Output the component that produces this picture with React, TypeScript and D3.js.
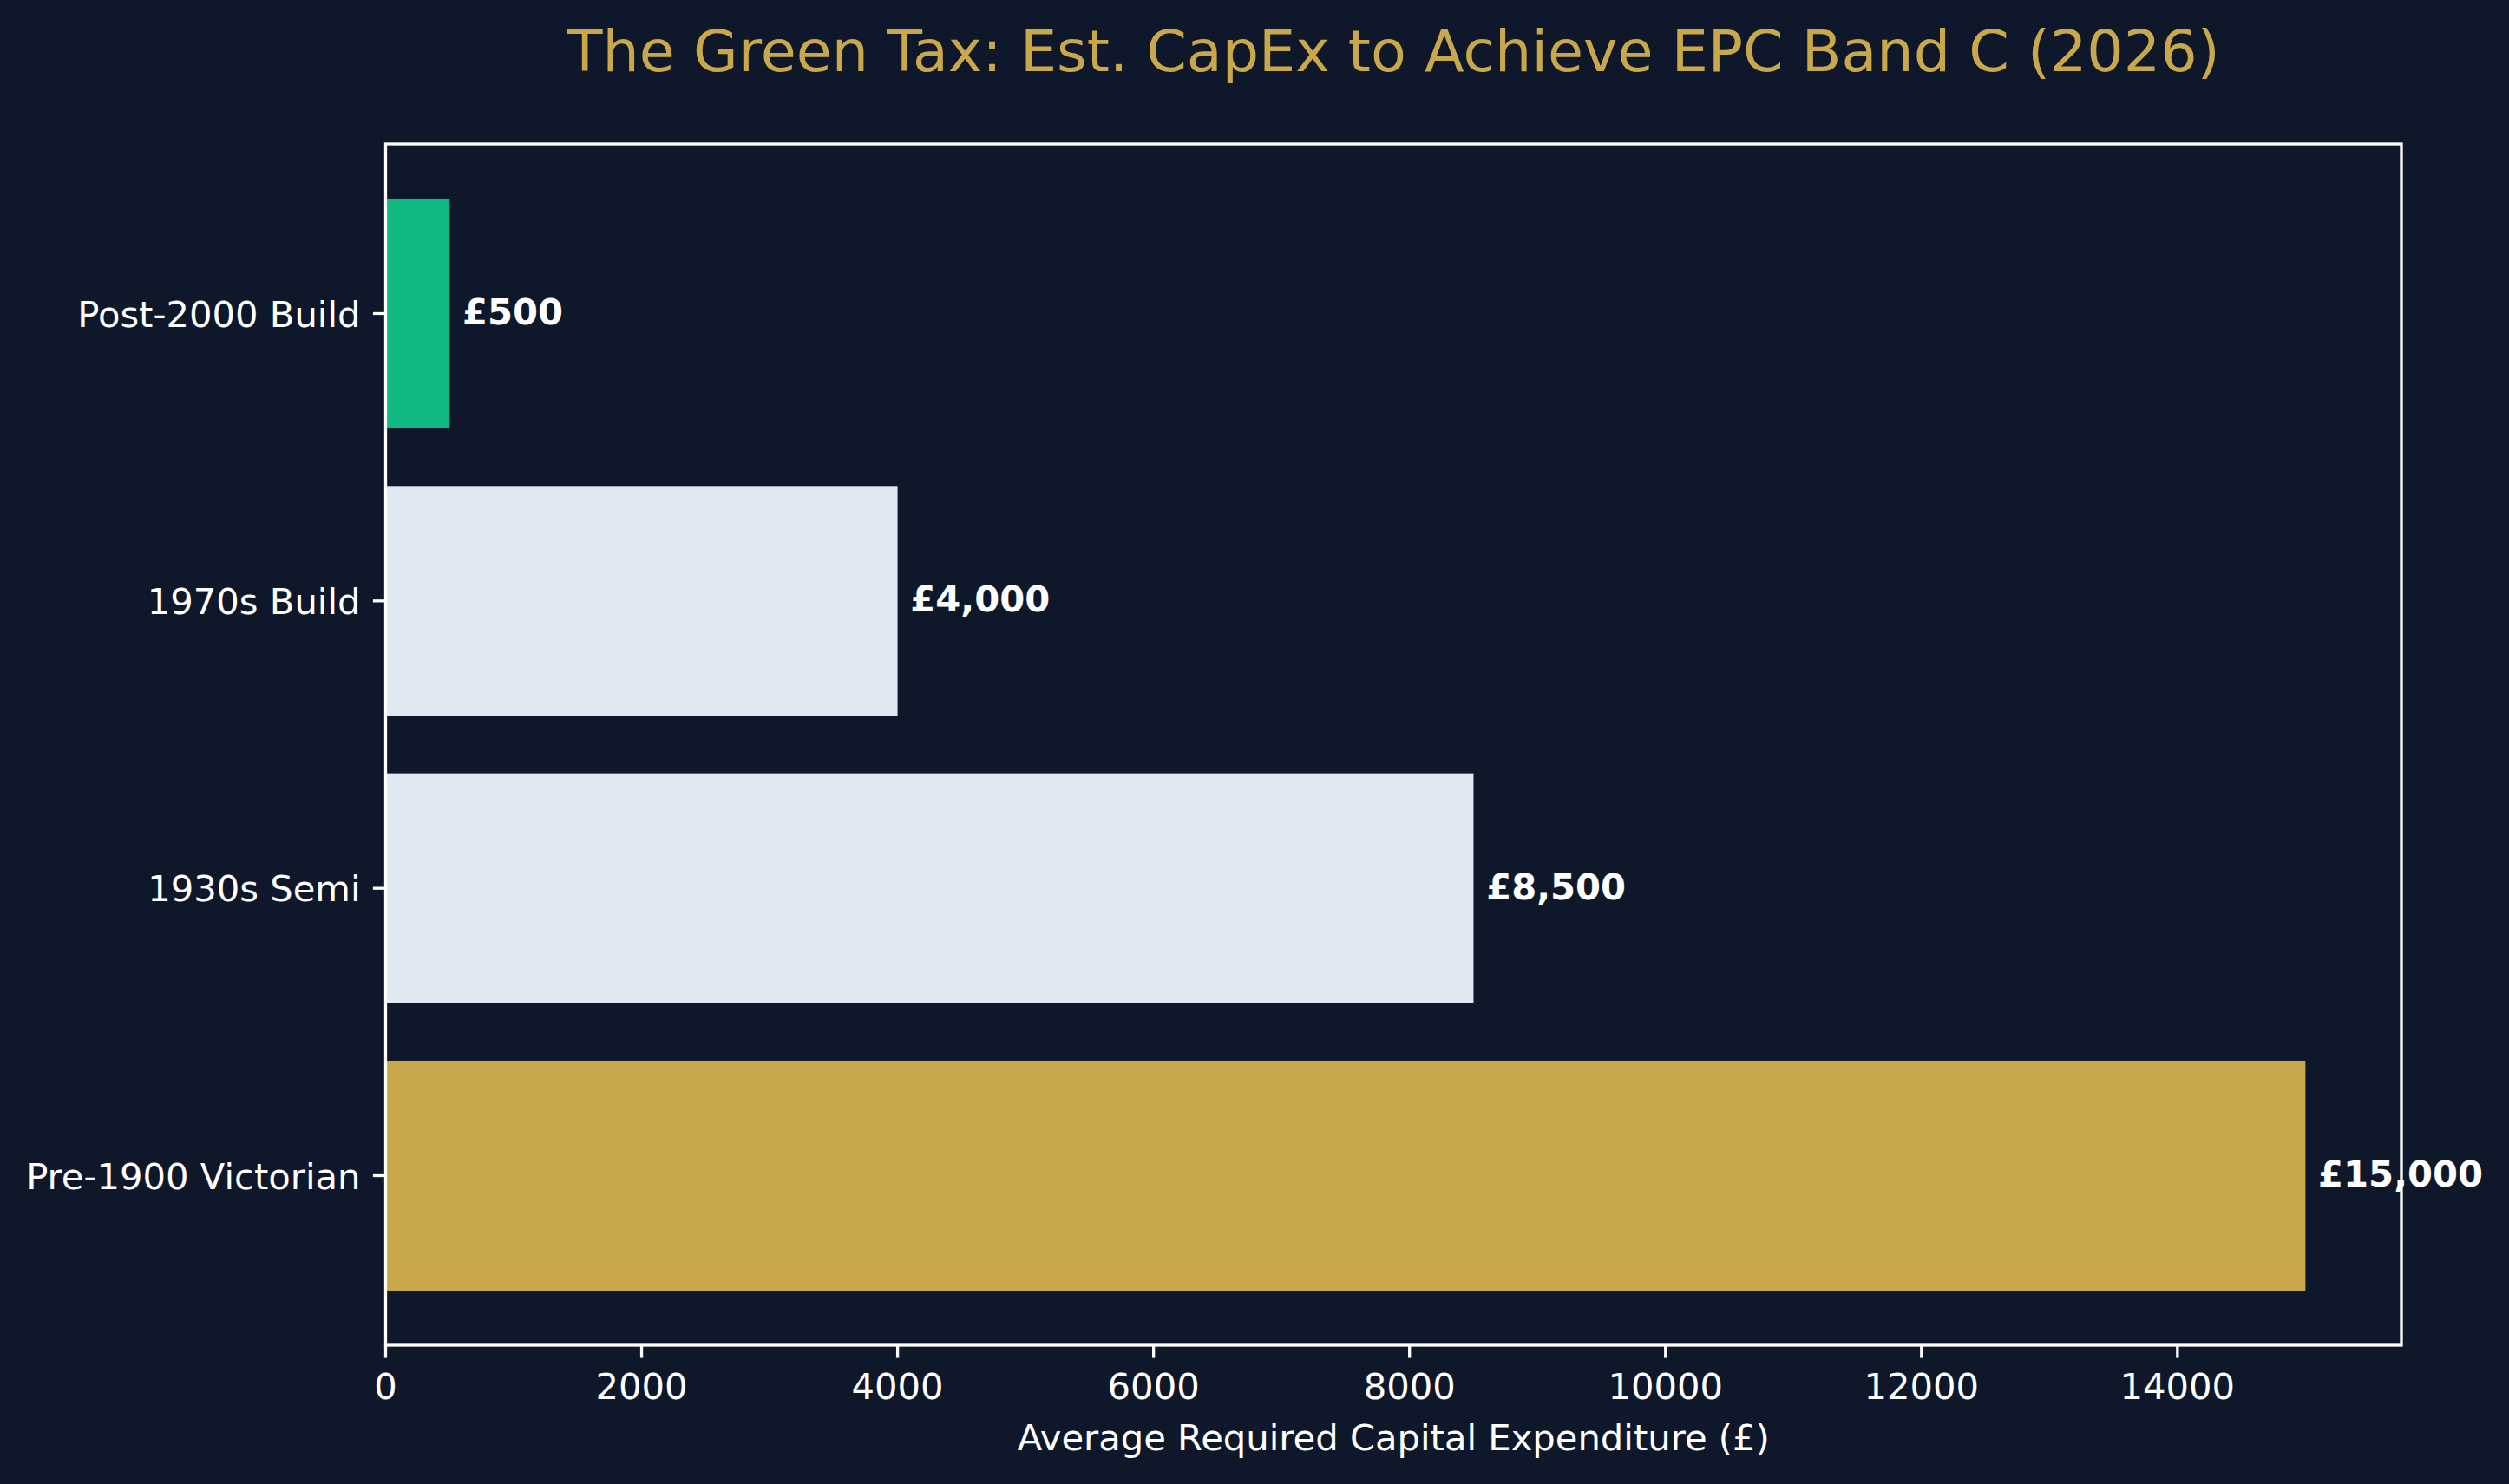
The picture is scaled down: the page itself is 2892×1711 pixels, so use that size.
import React from "react";
import * as d3 from "d3";

// bottom to top, as drawn
const categories = ["Pre-1900 Victorian", "1930s Semi", "1970s Build", "Post-2000 Build"];
const capex = [15000, 8500, 4000, 500];
const barColors = ["#C9A84C", "#E2E8F0", "#E2E8F0", "#10B981"];
const xTicks = [0, 2000, 4000, 6000, 8000, 10000, 12000, 14000];

const W = 2892;
const H = 1711;
const margin = { top: 166, right: 124, bottom: 160, left: 444.5 };
const BG = "#0F172A";
const FONT = "DejaVu Sans, sans-serif";

const App = () => {
  const maxV = d3.max(capex) as number;
  const x = d3
    .scaleLinear()
    .domain([0, maxV * 1.05])
    .range([margin.left, W - margin.right]);

  // matplotlib barh: bars at 0..n-1, height 0.8, 5% margins
  const n = categories.length;
  const lo = -0.4, hi = n - 1 + 0.4;
  const pad = (hi - lo) * 0.05;
  const y = d3
    .scaleLinear()
    .domain([lo - pad, hi + pad])
    .range([H - margin.bottom, margin.top]);

  const barH = y(0) - y(0.8);
  const left = margin.left, right = W - margin.right;
  const top = margin.top, bottom = H - margin.bottom;
  const cx = (left + right) / 2;

  return (
    <svg
      width={W}
      height={H}
      style={{ position: "absolute", left: 0, top: 0, display: "block" }}
      fontFamily={FONT}
    >
      <rect x={0} y={0} width={W} height={H} fill={BG} />

      {/* bars */}
      {categories.map((c, i) => (
        <rect
          key={c}
          x={x(0)}
          y={y(i) - barH / 2}
          width={x(capex[i]) - x(0)}
          height={barH}
          fill={barColors[i]}
        />
      ))}

      {/* spines */}
      <rect x={left} y={top} width={right - left} height={bottom - top} fill="none" stroke="#FFFFFF" strokeWidth={3.3} />

      {/* y ticks */}
      {categories.map((c, i) => (
        <g key={c} transform={`translate(0,${y(i)})`}>
          <line x1={left - 14.6} x2={left} stroke="#FFFFFF" strokeWidth={3.3} />
          <text x={left - 29} dy="0.36em" textAnchor="end" fontSize={41.7} fill="#FFFFFF">
            {c}
          </text>
        </g>
      ))}

      {/* x ticks */}
      {xTicks.map((t) => (
        <g key={t} transform={`translate(${x(t)},0)`}>
          <line y1={bottom} y2={bottom + 14.6} stroke="#FFFFFF" strokeWidth={3.3} />
          <text y={1613} textAnchor="middle" fontSize={41.7} fill="#FFFFFF">
            {t}
          </text>
        </g>
      ))}

      {/* value labels */}
      {categories.map((c, i) => (
        <text
          key={c}
          x={x(capex[i] + 100)}
          y={y(i)}
          dy="0.3em"
          fontSize={41.7}
          fontWeight="bold"
          fill="#FFFFFF"
        >
          {"£" + d3.format(",")(capex[i])}
        </text>
      ))}

      <text x={cx} y={1672} textAnchor="middle" fontSize={41.7} fill="#FFFFFF">
        Average Required Capital Expenditure (£)
      </text>

      <text x={cx} y={82} textAnchor="middle" fontSize={66.7} fill="#C9A84C">
        The Green Tax: Est. CapEx to Achieve EPC Band C (2026)
      </text>
    </svg>
  );
};

export default App;
